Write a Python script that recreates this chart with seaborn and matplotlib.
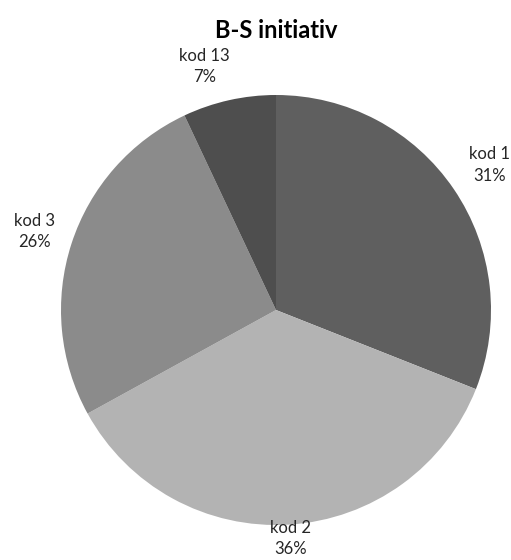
import numpy as np
import matplotlib
matplotlib.use('Agg')
import matplotlib.pyplot as plt
import seaborn as sns

# donnees du graphique
categories = ['kod 1', 'kod 2', 'kod 3', 'kod 13']
valeurs = [31, 36, 26, 7]
couleurs = ['#5f5f5f', '#b3b3b3', '#8b8b8b', '#4e4e4e']
titre = 'B-S initiativ'

sns.set_theme(style='white')
plt.rcParams['font.family'] = ['Lato', 'DejaVu Sans']

fig = plt.figure(figsize=(5.11, 5.6), dpi=100)
ax = fig.add_axes([61/511, 35/560, 430/511, 430/560])

wedges, _ = ax.pie(valeurs, colors=couleurs, startangle=90, counterclock=False,
                   radius=1, wedgeprops={'linewidth': 0})
ax.set_xlim(-1, 1)
ax.set_ylim(-1, 1)
ax.set_aspect('equal')

# etiquettes placees hors du disque, distance par etiquette
distances = [1.2, 1.065, 1.18, 1.16]
decalages = [0.0, 0.0, 0.0, -0.08]
total = sum(valeurs)
for w, cat, v, d, dx in zip(wedges, categories, valeurs, distances, decalages):
    ang = np.deg2rad((w.theta1 + w.theta2) / 2)
    ax.text(d * np.cos(ang) + dx, d * np.sin(ang), f'{cat}\n{round(100*v/total)}%',
            ha='center', va='center', fontsize=12, color='#262626',
            linespacing=1.4, clip_on=False, multialignment='center')

fig.text(276/511, 1 - 31/560, titre, ha='center', va='center',
         fontsize=17, fontweight='bold', color='black')

fig.savefig('out.png', dpi=100)
